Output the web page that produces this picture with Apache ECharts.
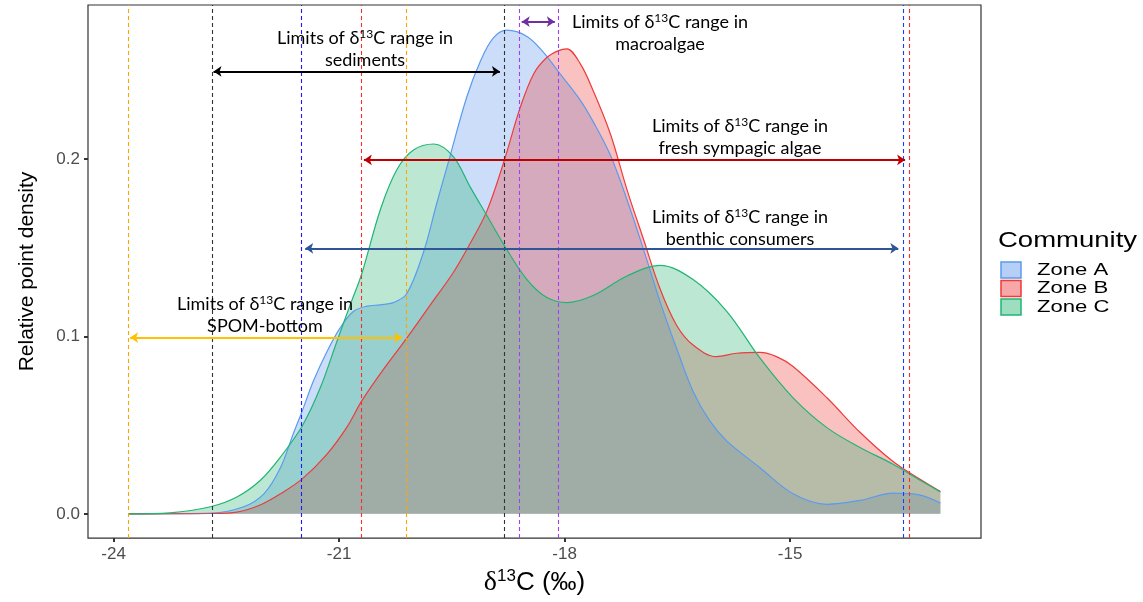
<!DOCTYPE html>
<html>
<head>
<meta charset="utf-8">
<script src="https://cdn.jsdelivr.net/npm/echarts@6/dist/echarts.min.js"></script>
<style>
  html, body { margin: 0; padding: 0; background: #fff; }
  #chart { width: 1143px; height: 602px; }
</style>
</head>
<body>
<div id="chart"></div>
<script>
// density curves: [d13C, density]
var zoneA = [
	[-23.8, 0], [-23.2, 0.0001], [-22.7, 0.0004], [-22.27, 0.004], [-22.0, 0.0113],
	[-21.78, 0.026], [-21.61, 0.045], [-21.49, 0.058], [-21.34, 0.075], [-21.16, 0.0915],
	[-20.99, 0.1045], [-20.81, 0.114], [-20.63, 0.117], [-20.45, 0.1178], [-20.28, 0.119],
	[-20.1, 0.124], [-19.88, 0.147], [-19.7, 0.175], [-19.55, 0.1976], [-19.3, 0.235],
	[-19.12, 0.255], [-18.95, 0.268], [-18.77, 0.2725], [-18.5, 0.269], [-18.28, 0.26],
	[-18.08, 0.249], [-17.79, 0.233], [-17.62, 0.221], [-17.39, 0.202], [-17.17, 0.177],
	[-16.95, 0.149], [-16.73, 0.1196], [-16.51, 0.0933], [-16.29, 0.069], [-16.07, 0.0525],
	[-15.84, 0.041], [-15.4, 0.026], [-14.96, 0.0113], [-14.51, 0.0054], [-14.07, 0.0076],
	[-13.63, 0.0117], [-13.27, 0.0106], [-13.0, 0.0061]
];
var zoneB = [
	[-23.8, 0], [-22.7, 0.0002], [-22.36, 0.001], [-22.05, 0.005], [-21.78, 0.0113],
	[-21.49, 0.0197], [-21.16, 0.0337], [-20.9, 0.0486], [-20.7, 0.0635], [-20.45, 0.079],
	[-20.1, 0.099], [-19.79, 0.1175], [-19.48, 0.136], [-19.26, 0.152], [-19.03, 0.171],
	[-18.8, 0.1994], [-18.59, 0.229], [-18.41, 0.248], [-18.24, 0.257], [-18.08, 0.261],
	[-17.97, 0.262], [-17.79, 0.2535], [-17.62, 0.2385], [-17.39, 0.214], [-17.17, 0.1827],
	[-16.95, 0.1547], [-16.73, 0.1268], [-16.51, 0.1063], [-16.29, 0.0951], [-15.98, 0.0886],
	[-15.71, 0.0905], [-15.4, 0.091], [-15.18, 0.0886], [-14.96, 0.083], [-14.51, 0.0654],
	[-14.07, 0.046], [-13.63, 0.0295], [-13.27, 0.0195], [-13.0, 0.0126]
];
var zoneC = [
	[-23.8, 0], [-23.25, 0.0006], [-22.71, 0.004], [-22.36, 0.0095], [-22.05, 0.0188],
	[-21.78, 0.032], [-21.49, 0.0495], [-21.25, 0.071], [-21.03, 0.097], [-20.85, 0.118],
	[-20.7, 0.135], [-20.45, 0.1715], [-20.23, 0.194], [-20.01, 0.205], [-19.74, 0.2084],
	[-19.48, 0.2013], [-19.26, 0.1845], [-19.03, 0.1678], [-18.77, 0.149], [-18.5, 0.132],
	[-18.24, 0.122], [-17.97, 0.119], [-17.62, 0.123], [-17.17, 0.134], [-16.73, 0.14],
	[-16.29, 0.132], [-15.84, 0.114], [-15.4, 0.0877], [-14.96, 0.0654], [-14.51, 0.0486],
	[-14.07, 0.0374], [-13.63, 0.028], [-13.27, 0.019], [-13.0, 0.0123]
];

// source limits (dashed verticals)
var limitValues = [-23.8, -22.69, -21.5, -20.7, -20.1, -18.8, -18.6, -18.09, -13.5, -13.41];
var limitColors = ['#ffa500', '#333333', '#1a1aff', '#ff2a2a', '#ffa500', '#333333', '#a040f0', '#a040f0', '#1a3cff', '#ff2a2a'];

// range arrows: [from, to, level]
var arrowSediments = [-22.67, -18.86, 0.2493];
var arrowMacroalgae = [-18.57, -18.13, 0.2773];
var arrowSympagic = [-20.67, -13.47, 0.1994];
var arrowBenthic = [-21.45, -13.56, 0.1496];
var arrowSpom = [-23.78, -20.16, 0.0993];

var xTicks = [-24, -21, -18, -15];
var yTicks = [0, 0.1, 0.2];

var zoneNames = ['Zone A', 'Zone B', 'Zone C'];
var lineColors = ['#5b9bee', '#ee3b3b', '#1fb574'];
var fillColors = ['rgba(92,148,235,0.45)', 'rgba(238,60,60,0.45)', 'rgba(40,180,115,0.45)'];

var myChart = echarts.init(document.getElementById('chart'));

var labelFont = 'Lato';
var rich = {
	t : { fontFamily : labelFont, fontSize : 18, color : '#111', lineHeight : 22 },
	s : { fontFamily : labelFont, fontSize : 12, color : '#111', lineHeight : 22, verticalAlign : 'top', padding : [1, 0, 0, 0] }
};
function note(x, y, second) {
	return {
		type : 'text',
		x : x,
		y : y,
		z : 100,
		style : {
			text : '{t|Limits of δ}{s|13}{t|C range in}\n{t|' + second + '}',
			rich : rich,
			align : 'center',
			verticalAlign : 'middle'
		}
	};
}

var series = zoneNames.map(function(name, i) {
	return {
		name : name,
		type : 'line',
		data : [ zoneA, zoneB, zoneC ][i],
		smooth : 0.35,
		symbol : 'none',
		lineStyle : { color : lineColors[i], width : 1.2 },
		itemStyle : { color : fillColors[i] },
		areaStyle : { color : fillColors[i], origin : 0 }
	};
});

// one holder series per dashed limit
limitValues.forEach(function(v, i) {
	series.push({
		name : 'limit' + i,
		type : 'line',
		data : [],
		z : 10,
		markLine : {
			silent : true,
			animation : false,
			symbol : [ 'none', 'none' ],
			label : { show : false },
			lineStyle : { color : limitColors[i], type : [4, 3], width : 1.1 },
			data : [ { xAxis : v } ]
		}
	});
});

function arrowSeries(a, color) {
	return {
		name : 'arrow' + color,
		type : 'line',
		data : [],
		z : 11,
		markLine : {
			silent : true,
			animation : false,
			symbol : [ 'arrow', 'arrow' ],
			symbolSize : [ 8, 8 ],
			label : { show : false },
			lineStyle : { color : color, width : 2, type : 'solid' },
			itemStyle : { color : color },
			data : [ [ { coord : [ a[0], a[2] ] }, { coord : [ a[1], a[2] ] } ] ]
		}
	};
}
series.push(arrowSeries(arrowSediments, '#000000'));
series.push(arrowSeries(arrowMacroalgae, '#7030a0'));
series.push(arrowSeries(arrowSympagic, '#c00000'));
series.push(arrowSeries(arrowBenthic, '#2f5597'));
series.push(arrowSeries(arrowSpom, '#ffc000'));

// legend drawn by hand (key boxes + labels)
var legendItems = [ {
	type : 'text',
	x : 998,
	y : 241,
	scaleX : 1.25,
	style : { text : 'Community', fontFamily : 'Liberation Sans', fontSize : 22, fill : '#000', verticalAlign : 'middle' }
} ];
zoneNames.forEach(function(name, i) {
	legendItems.push({
		type : 'rect',
		shape : { x : 1001, y : 262 + i * 18.5, width : 20, height : 16 },
		style : { fill : fillColors[i], stroke : lineColors[i], lineWidth : 1.5 }
	});
	legendItems.push({
		type : 'text',
		x : 1037,
		y : 270 + i * 18.5,
		scaleX : 1.3,
		style : { text : name, fontFamily : 'Liberation Sans', fontSize : 17, fill : '#000', verticalAlign : 'middle' }
	});
});

option = {
	animation : false,
	grid : {
		left : 88,
		right : 162,
		top : 5,
		bottom : 60,
		show : true,
		borderColor : '#333',
		borderWidth : 1.2,
		backgroundColor : 'transparent'
	},
	xAxis : {
		type : 'value',
		min : -24.34,
		max : -12.46,
		axisLine : { show : false, onZero : false },
		splitLine : { show : false },
		axisTick : { show : true, customValues : xTicks, length : 4, lineStyle : { color : '#333', width : 2 } },
		axisLabel : {
			customValues : xTicks,
			margin : 8,
			fontFamily : 'Liberation Sans',
			fontSize : 17,
			color : '#4d4d4d'
		},
		name : '{d|δ}{s|13}{c|C (‰)}',
		nameLocation : 'middle',
		nameGap : 29,
		nameTextStyle : {
			rich : {
				d : { fontFamily : 'Liberation Serif', fontSize : 28, color : '#000', lineHeight : 30 },
				s : { fontFamily : 'Liberation Sans', fontSize : 17, color : '#000', lineHeight : 30, verticalAlign : 'top' },
				c : { fontFamily : 'Liberation Sans', fontSize : 26, color : '#000', lineHeight : 30 }
			}
		}
	},
	yAxis : {
		type : 'value',
		min : -0.01365,
		max : 0.2867,
		axisLine : { show : false, onZero : false },
		splitLine : { show : false },
		axisTick : { show : true, customValues : yTicks, length : 4, lineStyle : { color : '#333', width : 2 } },
		axisLabel : {
			customValues : yTicks,
			margin : 8,
			fontFamily : 'Liberation Sans',
			fontSize : 17,
			color : '#4d4d4d',
			formatter : function(v) { return v.toFixed(1); }
		},
		name : 'Relative point density',
		nameLocation : 'middle',
		nameRotate : 90,
		nameGap : 50,
		nameTextStyle : { fontFamily : 'Liberation Sans', fontSize : 21, color : '#000' }
	},
	graphic : [
		note(365, 49, 'sediments'),
		note(660, 33, 'macroalgae'),
		note(740, 137, 'fresh sympagic algae'),
		note(740, 228, 'benthic consumers'),
		note(265, 315, 'SPOM-bottom')
	].concat(legendItems),
	series : series
};

myChart.setOption(option);
</script>
</body>
</html>
